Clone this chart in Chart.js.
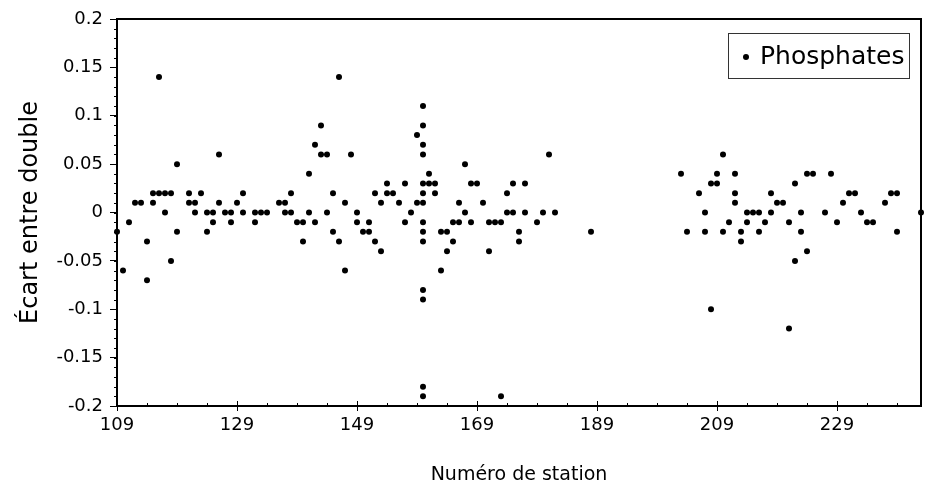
<!DOCTYPE html>
<html>
<head>
<meta charset="utf-8">
<script src="https://cdn.jsdelivr.net/npm/chart.js@4.4.1/dist/chart.umd.min.js"></script>
<style>
  html, body { margin: 0; padding: 0; background: #fff; }
  #wrap { width: 936px; height: 495px; }
</style>
</head>
<body>
<div id="wrap"><canvas id="chart" width="936" height="495"></canvas></div>
<script>
'use strict';

/* ── Data ──────────────────────────────────────────────── */

var stations = [
  109, 110, 111, 112, 113, 114, 114, 115, 115, 116, 116, 117, 117, 118, 118, 119, 119,
  121, 121, 122, 122, 123, 124, 124, 125, 125, 126, 126, 127, 128, 128, 129,
  130, 130, 132, 132, 133, 134, 136, 137, 137, 138, 138, 139, 140, 140,
  141, 141, 142, 142, 143, 143, 144, 144, 145, 145, 146, 146, 147, 147, 148, 149, 149,
  150, 151, 151, 152, 152, 153, 153, 154, 154, 155, 156, 157, 157, 158, 159, 159,
  160, 160, 160, 160, 160, 160, 160, 160, 160, 160, 160, 160, 160, 160,
  161, 161, 162, 162, 163, 163, 164, 164, 165, 165, 166, 166, 167, 167, 168, 168, 169,
  170, 171, 171, 172, 173, 173, 174, 174, 175, 175, 176, 176, 177, 177, 179, 180, 181, 182,
  188,
  203, 204, 206, 207, 207, 208, 208, 209, 209, 210, 210, 211, 212, 212, 212, 213, 213,
  214, 214, 215, 216, 216, 217, 218, 218, 219, 220, 221, 221, 222, 222, 223, 223, 224, 224, 225,
  227, 228, 229, 230, 231, 232, 233, 234, 235, 237, 238, 239, 239, 243
];

var phosphateDiffs = [
  -0.02, -0.06, -0.01, 0.01, 0.01, -0.03, -0.07, 0.02, 0.01, 0.02, 0.14, 0.02, 0, 0.02, -0.05, 0.05, -0.02,
  0.02, 0.01, 0.01, 0, 0.02, 0, -0.02, 0, -0.01, 0.06, 0.01, 0, 0, -0.01, 0.01,
  0.02, 0, 0, -0.01, 0, 0, 0.01, 0.01, 0, 0.02, 0, -0.01, -0.01, -0.03,
  0.04, 0, 0.07, -0.01, 0.09, 0.06, 0.06, 0, 0.02, -0.02, 0.14, -0.03, 0.01, -0.06, 0.06, 0, -0.01,
  -0.02, -0.01, -0.02, 0.02, -0.03, 0.01, -0.04, 0.03, 0.02, 0.02, 0.01, 0.03, -0.01, 0, 0.08, 0.01,
  0.11, 0.09, 0.07, 0.06, 0.03, 0.02, 0.01, -0.01, -0.02, -0.03, -0.08, -0.09, -0.18, -0.19,
  0.04, 0.03, 0.03, 0.02, -0.02, -0.06, -0.02, -0.04, -0.01, -0.03, 0.01, -0.01, 0.05, 0, 0.03, -0.01, 0.03,
  0.01, -0.01, -0.04, -0.01, -0.01, -0.19, 0.02, 0, 0.03, 0, -0.02, -0.03, 0.03, 0, -0.01, 0, 0.06, 0,
  -0.02,
  0.04, -0.02, 0.02, 0, -0.02, 0.03, -0.10, 0.03, 0.04, 0.06, -0.02, -0.01, 0.04, 0.02, 0.01, -0.02, -0.03,
  0, -0.01, 0, 0, -0.02, -0.01, 0.02, 0, 0.01, 0.01, -0.01, -0.12, 0.03, -0.05, 0, -0.02, 0.04, -0.04, 0.04,
  0, 0.04, -0.01, 0.01, 0.02, 0.02, 0, -0.01, -0.01, 0.01, 0.02, 0.02, -0.02, 0
];

var xTicks = [109, 129, 149, 169, 189, 209, 229];
var yTicks = [-0.2, -0.15, -0.1, -0.05, 0, 0.05, 0.1, 0.15, 0.2];
var xMin = 109, xMax = 243, xMinorStep = 5;
var yMin = -0.2, yMax = 0.2, yMinorStep = 0.01;

var seriesLabel = 'Phosphates';
var xTitle = 'Numéro de station';
var yTitle = 'Écart entre double';

/* ── Helpers ───────────────────────────────────────────── */

function fmtTick(v) {
  return String(Math.round(v * 100) / 100);
}

var points = stations.map(function (s, i) {
  return { x: s, y: phosphateDiffs[i] };
});

Chart.defaults.font.family = '"DejaVu Sans", sans-serif';
Chart.defaults.color = '#000';

/* Frame, minor ticks, inner halves of the x major ticks */
var framePlugin = {
  id: 'frame',
  beforeDatasetsDraw: function (chart) {
    var a = chart.chartArea, ctx = chart.ctx;
    var xs = chart.scales.x, ys = chart.scales.y;
    ctx.save();
    ctx.strokeStyle = '#000';
    ctx.lineWidth = 1;
    ctx.beginPath();
    var v, p;
    for (v = xMin; v <= xMax; v += xMinorStep) {
      p = Math.round(xs.getPixelForValue(v)) + 0.5;
      ctx.moveTo(p, a.bottom);
      ctx.lineTo(p, a.bottom - (xTicks.indexOf(v) >= 0 ? 5 : 3));
    }
    for (var k = 0; k <= Math.round((yMax - yMin) / yMinorStep); k++) {
      v = yMin + k * yMinorStep;
      p = Math.round(ys.getPixelForValue(v)) + 0.5;
      ctx.moveTo(a.left, p);
      ctx.lineTo(a.left - 3, p);
    }
    ctx.stroke();
    ctx.lineWidth = 2;
    ctx.strokeRect(a.left, a.top, a.right - a.left, a.bottom - a.top);
    ctx.restore();
  }
};

/* Boxed legend, top right of the plot */
var legendPlugin = {
  id: 'boxLegend',
  afterDraw: function (chart) {
    var ctx = chart.ctx;
    ctx.save();
    ctx.strokeStyle = '#333';
    ctx.lineWidth = 1;
    ctx.strokeRect(728.5, 33.5, 181, 45);
    ctx.fillStyle = '#000';
    ctx.beginPath();
    ctx.arc(746, 57, 3, 0, Math.PI * 2);
    ctx.fill();
    ctx.font = '25px "DejaVu Sans", sans-serif';
    ctx.textBaseline = 'middle';
    ctx.fillText(seriesLabel, 760, 57);
    ctx.restore();
  }
};

new Chart(document.getElementById('chart'), {
  type: 'scatter',
  data: {
    datasets: [{
      label: seriesLabel,
      data: points,
      pointRadius: 3,
      pointHoverRadius: 3,
      pointBackgroundColor: '#000',
      pointBorderWidth: 0,
      showLine: false,
      clip: false
    }]
  },
  options: {
    responsive: false,
    animation: false,
    layout: { padding: { top: 19, right: 15, left: 0, bottom: 0 } },
    plugins: {
      legend: { display: false },
      tooltip: { enabled: false }
    },
    scales: {
      x: {
        type: 'linear',
        min: xMin,
        max: xMax,
        afterBuildTicks: function (scale) {
          scale.ticks = xTicks.map(function (v) { return { value: v }; });
        },
        afterFit: function (scale) { scale.height = 89; },
        grid: { drawOnChartArea: false, color: '#000', tickColor: '#000', tickLength: 5 },
        border: { display: false },
        ticks: { font: { size: 18 }, padding: 4, maxRotation: 0, autoSkip: false },
        title: { display: true, text: xTitle, font: { size: 19 }, padding: { top: 0, bottom: 9 } }
      },
      y: {
        type: 'linear',
        min: yMin,
        max: yMax,
        afterBuildTicks: function (scale) {
          scale.ticks = yTicks.map(function (v) { return { value: v }; });
        },
        afterFit: function (scale) { scale.width = 117; },
        grid: { drawOnChartArea: false, color: '#000', tickColor: '#000', tickLength: 7 },
        border: { display: false },
        ticks: { font: { size: 18 }, padding: 7, autoSkip: false, callback: fmtTick },
        title: { display: true, text: yTitle, font: { size: 24 }, padding: { top: 16, bottom: 0 } }
      }
    }
  },
  plugins: [framePlugin, legendPlugin]
});
</script>
</body>
</html>
